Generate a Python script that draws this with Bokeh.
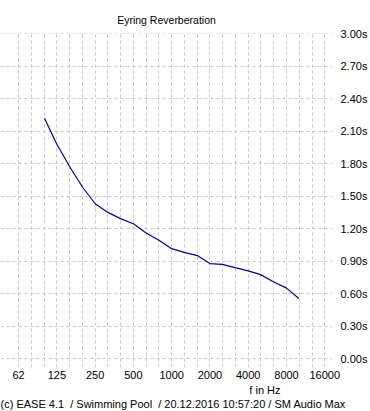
from bokeh.plotting import figure
from bokeh.models import FixedTicker, CustomJSTickFormatter, Range1d, Title
from bokeh.embed import file_html
from bokeh.resources import INLINE

# --- data ---
freq_hz = [100, 125, 160, 200, 250, 315, 400, 500, 630, 800, 1000, 1250,
           1600, 2000, 2500, 3150, 4000, 5000, 6300, 8000, 10000]
rt_eyring = [2.22, 1.98, 1.76, 1.58, 1.43, 1.35, 1.29, 1.245, 1.16, 1.09, 1.015, 0.98,
             0.95, 0.877, 0.87, 0.84, 0.81, 0.775, 0.71, 0.65, 0.555]
octave_ticks = [62.5, 125, 250, 500, 1000, 2000, 4000, 8000, 16000]
octave_labels = ["62", "125", "250", "500", "1000", "2000", "4000", "8000", "16000"]
time_ticks = [0.0, 0.3, 0.6, 0.9, 1.2, 1.5, 1.8, 2.1, 2.4, 2.7, 3.0]
third_octave_grid = [62.5 * 2 ** (k / 3) for k in range(25)]

title_text = "Eyring Reverberation"
xlabel_text = "f in Hz"
footer_text = "(c) EASE 4.1\u00a0 / Swimming Pool\u00a0 / 20.12.2016 10:57:20 / SM Audio Max"

# --- geometry (canvas pixels) ---
W, H = 370, 411
frame_left_px, frame_right_px = 0, 340
f0_px, px_per_oct = 18.5, 39.2                  # x of 62.5 Hz, pixels per octave
y0_px, px_per_unit = 358, 32.5 / 0.3            # y of 0 s
frame_top_px, frame_bot_px = 33, 367


def f_at(px):
    return 62.5 * 2 ** ((px - f0_px) / px_per_oct)


def t_at(py):
    return (y0_px - py) / px_per_unit


font = "Liberation Sans"

p = figure(width=W, height=H, output_backend="svg", toolbar_location=None,
           x_axis_type="log", y_axis_location="right",
           x_range=Range1d(f_at(frame_left_px), f_at(frame_right_px)),
           y_range=Range1d(t_at(frame_bot_px), t_at(frame_top_px) + 0.003),
           min_border_left=0, min_border_top=frame_top_px,
           min_border_bottom=H - frame_bot_px, min_border_right=W - frame_right_px)
p.outline_line_color = None
p.background_fill_color = "white"
p.border_fill_color = "white"

p.title.text = title_text
p.title.align = "center"
p.title.offset = 0
p.title.text_font = font
p.title.text_font_size = "10.5px"
p.title.text_font_style = "normal"
p.title.text_color = "black"
p.title.standoff = 16

grid_color = "#c4c4c4"
p.xgrid.ticker = FixedTicker(ticks=third_octave_grid)
p.ygrid.ticker = FixedTicker(ticks=time_ticks)
for g in (p.xgrid, p.ygrid):
    g.grid_line_color = grid_color
    g.grid_line_dash = "3 3"
    g.grid_line_width = 1

xa = p.xaxis[0]
xa.ticker = FixedTicker(ticks=octave_ticks)
xa.formatter = CustomJSTickFormatter(
    args=dict(t=octave_ticks, l=octave_labels),
    code="for (let i = 0; i < t.length; i++) { if (Math.abs(t[i] - tick) < 1e-6 * t[i]) return l[i]; } return '';")
xa.axis_line_color = None
xa.major_tick_line_color = None
xa.minor_tick_line_color = None
xa.major_label_standoff = -3
xa.major_label_text_font = font
xa.major_label_text_font_size = "11px"
xa.major_label_text_color = "black"

ya = p.yaxis[0]
ya.ticker = FixedTicker(ticks=time_ticks)
ya.formatter = CustomJSTickFormatter(code="return tick.toFixed(2) + 's';")
ya.axis_line_color = None
ya.major_tick_line_color = None
ya.minor_tick_line_color = None
ya.major_label_standoff = 2
ya.major_label_text_font = font
ya.major_label_text_font_size = "11px"
ya.major_label_text_color = "black"

p.line(freq_hz, rt_eyring, line_color="#0000a0", line_width=1.2)

p.add_layout(Title(text=xlabel_text, align="right", offset=frame_right_px - 288,
                   text_font=font, text_font_size="11px", text_font_style="normal",
                   text_color="black", standoff=0), "below")
p.add_layout(Title(text=footer_text, align="left", offset=0,
                   text_font=font, text_font_size="11px", text_font_style="normal",
                   text_color="black", standoff=0), "below")

open("out.html", "w").write(file_html(p, INLINE))
